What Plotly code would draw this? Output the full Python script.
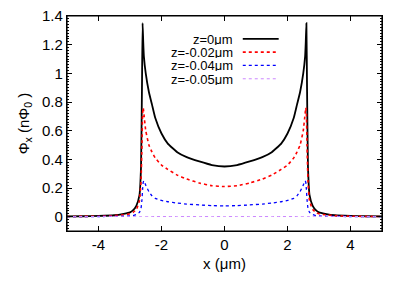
import plotly.graph_objects as go

# x positions (µm) of the sampled points
x_vals = [-5.0, -4.5, -4.0, -3.5, -3.2, -3.0, -2.9, -2.8, -2.7, -2.65, -2.62, -2.6, -2.58, -2.56,
          -2.5, -2.4, -2.3, -2.2, -2.0, -1.8, -1.5, -1.2, -0.8, -0.4, 0.0,
          0.4, 0.8, 1.2, 1.5, 1.8, 2.0, 2.2, 2.3, 2.4, 2.5, 2.56, 2.58, 2.6, 2.62, 2.65,
          2.7, 2.8, 2.9, 3.0, 3.2, 3.5, 4.0, 4.5, 5.0]

z0 = [0.002, 0.003, 0.005, 0.01, 0.02, 0.03, 0.045, 0.075, 0.15, 0.35, 0.9, 1.35, 1.22, 1.12,
      1.0, 0.87, 0.78, 0.69, 0.58, 0.51, 0.45, 0.415, 0.385, 0.36, 0.35,
      0.36, 0.385, 0.415, 0.45, 0.51, 0.58, 0.69, 0.78, 0.87, 1.0, 1.12, 1.22, 1.35, 0.9, 0.35,
      0.15, 0.075, 0.045, 0.03, 0.02, 0.01, 0.005, 0.003, 0.002]

z002 = [0.001, 0.002, 0.003, 0.007, 0.013, 0.02, 0.03, 0.05, 0.11, 0.25, 0.5, 0.72, 0.76, 0.72,
        0.6, 0.5, 0.45, 0.41, 0.36, 0.33, 0.29, 0.262, 0.235, 0.216, 0.21,
        0.216, 0.235, 0.262, 0.29, 0.33, 0.36, 0.41, 0.45, 0.5, 0.6, 0.72, 0.76, 0.72, 0.5, 0.25,
        0.11, 0.05, 0.03, 0.02, 0.013, 0.007, 0.003, 0.002, 0.001]

z004 = [0.0005, 0.0007, 0.001, 0.002, 0.003, 0.005, 0.008, 0.015, 0.03, 0.06, 0.12, 0.19, 0.24, 0.25,
        0.22, 0.175, 0.145, 0.128, 0.113, 0.104, 0.095, 0.088, 0.082, 0.077, 0.075,
        0.077, 0.082, 0.088, 0.095, 0.104, 0.113, 0.128, 0.145, 0.175, 0.22, 0.25, 0.24, 0.19, 0.12, 0.06,
        0.03, 0.015, 0.008, 0.005, 0.003, 0.002, 0.001, 0.0007, 0.0005]

z005 = [0.001] * len(x_vals)

series_names = ["z=0\u03bcm", "z=-0.02\u03bcm", "z=-0.04\u03bcm", "z=-0.05\u03bcm"]
series_colors = ["#000000", "#ff0000", "#0000ff", "#cc88ff"]
series_dash = ["solid", "dot", "dot", "dot"]
series_width = [1.8, 1.6, 1.3, 1]
series_data = [z0, z002, z004, z005]

x_tick_vals = [-4, -2, 0, 2, 4]
x_tick_text = ["-4", "-2", "0", "2", "4"]
y_tick_vals = [0, 0.2, 0.4, 0.6, 0.8, 1.0, 1.2, 1.4]
y_tick_text = ["0", "0.2", "0.4", "0.6", "0.8", "1", "1.2", "1.4"]

FONT = "Liberation Sans, Arial, sans-serif"

fig = go.Figure()
for name, col, dash, w, ys in zip(series_names, series_colors, series_dash, series_width, series_data):
    fig.add_trace(go.Scatter(x=x_vals, y=ys, mode="lines", name=name,
                             line=dict(color=col, dash=dash, width=w, shape="spline", smoothing=0.4),
                             showlegend=False, hoverinfo="skip"))

# gnuplot-style legend: text right-aligned, line sample to the right
leg_y = [0.894, 0.832, 0.770, 0.708]
for name, col, dash, w, ly in zip(series_names, series_colors, series_dash, series_width, leg_y):
    fig.add_annotation(xref="paper", yref="paper", x=0.53, y=ly, text=name, showarrow=False,
                       xanchor="right", yanchor="middle", height=12, borderpad=0,
                       font=dict(family=FONT, size=13, color="#000"))
    fig.add_shape(type="line", xref="paper", yref="paper", x0=0.558, x1=0.672, y0=ly, y1=ly,
                  line=dict(color=col, dash=dash, width=w))

# plot frame
fig.add_shape(type="rect", xref="paper", yref="paper", x0=0, x1=1, y0=0, y1=1,
              line=dict(color="#000", width=1.2), layer="above")

fig.update_layout(
    template="none",
    width=407, height=285,
    margin=dict(l=67, r=25, t=16, b=54, autoexpand=False),
    paper_bgcolor="white", plot_bgcolor="white",
    font=dict(family=FONT, size=15, color="#000"),
    xaxis=dict(range=[-5, 5], tickvals=x_tick_vals, ticktext=x_tick_text, ticks="inside",
               ticklen=5, tickcolor="#000",
               showline=True, linecolor="#000", linewidth=1.2, mirror="ticks", showgrid=False,
               zeroline=False, automargin=False,
               title=dict(text="x (\u03bcm)", font=dict(size=15), standoff=6)),
    yaxis=dict(range=[-0.1, 1.4], tickvals=y_tick_vals, ticktext=y_tick_text, ticks="inside",
               ticklen=5, tickcolor="#000", showline=True, linecolor="#000", linewidth=1.2,
               mirror="ticks", showgrid=False, zeroline=False, automargin=False,
               minor=dict(ticks="inside", ticklen=2, dtick=0.02, tickcolor="#000", showgrid=False),
               title=dict(text="\u03a6<sub>x</sub> (n\u03a6<sub>0</sub> )", font=dict(size=15), standoff=8)),
)

fig.write_html("out.html", config={"displayModeBar": False},
               post_script="document.body.style.margin='0';document.body.style.padding='0';")
